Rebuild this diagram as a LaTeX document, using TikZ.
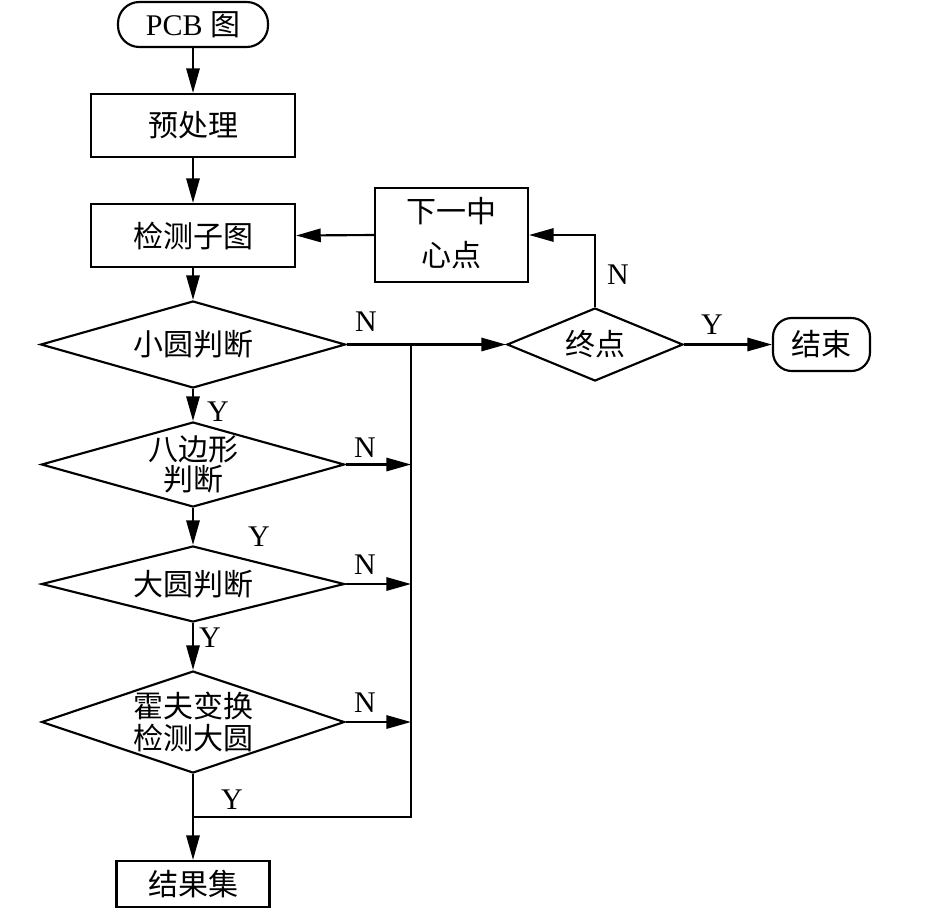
\documentclass[tikz,border=0pt]{standalone}
\usepackage{fontspec}
\setmainfont{Liberation Serif}
\newfontfamily\cjk{Noto Sans CJK SC}
\usetikzlibrary{shapes.geometric,arrows.meta}
\begin{document}
\begin{tikzpicture}[x=0.75pt,y=-0.75pt,
  line width=1.6pt,
  >={Triangle[length=18.5pt,width=10pt]},
  basefont/.style={font=\fontsize{22.5}{26}\selectfont},
  proc/.style={draw,rectangle,inner sep=0pt,basefont,align=center},
  termbox/.style={draw,rectangle,inner sep=0pt,basefont},
  dec/.style={draw,diamond,aspect=1,inner sep=0pt,basefont,align=center},
  lab/.style={inner sep=0pt,basefont}
]
\useasboundingbox (0,0) rectangle (945,908);

\node[termbox,rounded corners=16pt,minimum width=112.5pt,minimum height=33.75pt] (start) at (193,24.5) {PCB {\cjk 图}};
\node[proc,minimum width=153pt,minimum height=47.25pt] (pre) at (193,125.5) {\cjk 预处理};
\node[proc,minimum width=153pt,minimum height=47.25pt] (det) at (193,235.5) {\cjk 检测子图};
\node[proc,minimum width=114.75pt,minimum height=70.5pt] (next) at (451.5,235) {\raisebox{4pt}{\cjk 下一中}\\[7pt]\raisebox{4pt}{\cjk 心点}};
\node[dec,minimum width=228.75pt,minimum height=65.25pt] (d1) at (193,344.5) {\makebox[0pt]{\cjk 小圆判断}};
\node[dec,minimum width=227.25pt,minimum height=63.75pt] (d2) at (193,464.5) {\makebox[0pt]{\cjk 八边形}\\[-3.5pt]\makebox[0pt]{\cjk 判断}};
\node[dec,minimum width=227.25pt,minimum height=57pt] (d3) at (193,584) {\makebox[0pt]{\cjk 大圆判断}};
\node[dec,minimum width=227.25pt,minimum height=76.5pt] (d4) at (193,722) {\makebox[0pt]{\cjk 霍夫变换}\\[-1.5pt]\makebox[0pt]{\cjk 检测大圆}};
\node[proc,minimum width=114.75pt,minimum height=34.5pt] (res) at (193,884) {\cjk 结果集};
\node[dec,minimum width=132pt,minimum height=54.75pt] (term) at (595,344.5) {\makebox[0pt]{\cjk 终点}};
\node[termbox,rounded corners=14pt,minimum width=72.75pt,minimum height=39.75pt] (fin) at (821.5,344.5) {\cjk 结束};

\coordinate (jtop) at (411,344.5);
\coordinate (jbot) at (411,817);

\draw[->] (start) -- (pre);
\draw[->] (pre) -- (det);
\draw[->] (det) -- (d1);
\draw[->] (d1) -- (d2);
\draw[->] (d2) -- (d3);
\draw[->] (d3) -- (d4);
\draw[->] (d4) -- (res);
\draw[->] (d1.east) -- (term.west);
\draw[->] (d2.east) -- (d2.east -| jtop);
\draw[->] (d3.east) -- (d3.east -| jtop);
\draw[->] (d4.east) -- (d4.east -| jtop);
\draw (jtop) -- (jbot) -- (jbot -| d4.south);
\draw[->] (term.north) |- (next.east);
\draw[->] (next.west) -- (det.east);
\draw[->] (term.east) -- (fin.west);

\node[lab] (y1) at (218,412) {Y};
\node[lab] (y2) at (259,537) {Y};
\node[lab] (y3) at (210,638) {Y};
\node[lab] (y4) at (232,800) {Y};
\node[lab] (n1) at (366,322) {N};
\node[lab] (n2) at (365,448) {N};
\node[lab] (n3) at (365,565) {N};
\node[lab] (n4) at (365,703) {N};
\node[lab] (n5) at (618,275) {N};
\node[lab] (y5) at (712,325) {Y};
\end{tikzpicture}
\end{document}
